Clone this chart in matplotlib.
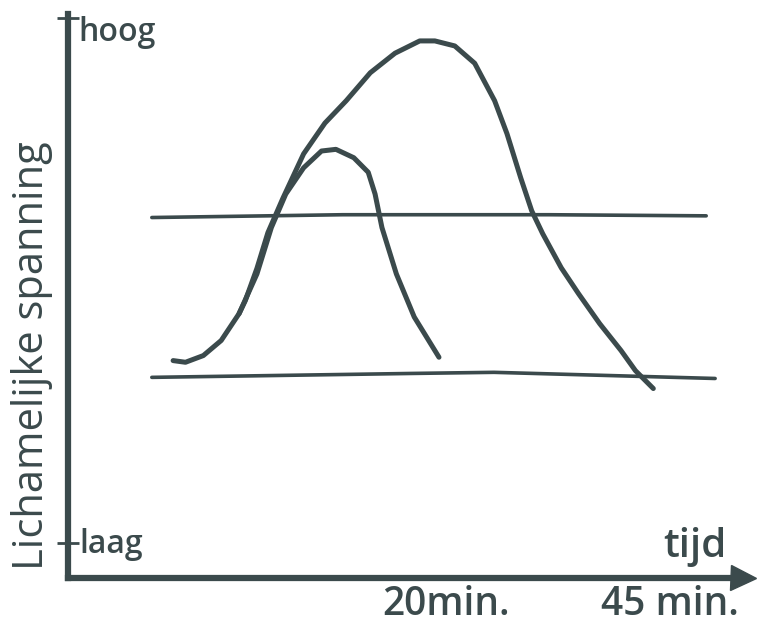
import matplotlib.pyplot as plt

# kleur van de stift
ink = '#3b4a4c'

# korte spanningscurve (piek rond 20 min.)
kort_t = [15.3, 17.1, 19.7, 22.3, 24.9, 27.5, 29.6, 31.7, 34.3, 36.9, 39.0,
          41.6, 43.7, 44.7, 45.7, 47.8, 50.4, 52.5, 54.0]
kort_s = [38.9, 38.6, 39.8, 42.5, 47.3, 54.4, 62.7, 68.7, 73.4, 76.4, 76.7,
          75.2, 72.6, 68.7, 62.7, 54.4, 46.7, 42.5, 39.5]

# lange spanningscurve (tot 45 min.)
lang_t = [24.9, 25.8, 27.5, 29.1, 31.3, 34.3, 37.4, 40.5, 44.0, 47.6, 51.2,
          53.4, 56.3, 59.2, 62.1, 63.9, 65.9, 67.5, 69.1, 71.8, 74.3, 77.4,
          80.5, 82.6, 85.2]
lang_s = [47.3, 49.6, 55.4, 61.8, 68.0, 75.9, 81.4, 85.4, 90.4, 93.9, 96.1,
          96.1, 95.2, 92.1, 85.4, 79.5, 71.6, 65.7, 61.6, 55.5, 50.9, 45.5,
          40.7, 37.1, 33.9]

# twee horizontale grenslijnen
boven_t = [12.2, 40.0, 70.0, 92.9]
boven_s = [64.5, 65.0, 65.0, 64.8]
onder_t = [12.2, 50.0, 62.0, 94.2]
onder_s = [35.9, 36.6, 36.8, 35.7]

y_ticks = [100.2, 6.25]
y_labels = ['hoog', 'laag']
x_ticks = [55.0, 87.6]
x_labels = ['20min.', '45 min.']

plt.rcParams['font.family'] = ['Open Sans', 'DejaVu Sans']

fig = plt.figure(figsize=(7.59, 6.36), dpi=100)
ax = fig.add_axes([0.0896, 0.0912, 0.9051, 0.8805])
ax.set_xlim(0, 100)
ax.set_ylim(0, 100)

ax.plot(boven_t, boven_s, color=ink, lw=2.6, solid_capstyle='round')
ax.plot(onder_t, onder_s, color=ink, lw=2.6, solid_capstyle='round')
ax.plot(kort_t, kort_s, color=ink, lw=3.6, solid_capstyle='round', solid_joinstyle='round')
ax.plot(lang_t, lang_s, color=ink, lw=3.6, solid_capstyle='round', solid_joinstyle='round')

# assen
for side in ['top', 'right']:
    ax.spines[side].set_visible(False)
for side in ['left', 'bottom']:
    ax.spines[side].set_color(ink)
    ax.spines[side].set_linewidth(4.5)
ax.spines['left'].set_bounds(0, 101)
ax.spines['bottom'].set_bounds(0, 98)
ax.plot([98.3], [0], marker='>', markersize=18, color=ink, clip_on=False)

ax.set_yticks(y_ticks)
ax.set_yticklabels([])
ax.tick_params(axis='y', direction='inout', length=16, width=2, color=ink)
# labels naast de ticks (tekst begint iets rechts van de as)
ax.text(1.5, 100.6, y_labels[0], color=ink, fontsize=23, va='top', ha='left',
        fontweight='semibold', clip_on=False)
ax.text(1.7, 9.0, y_labels[1], color=ink, fontsize=23, va='top', ha='left',
        fontweight='semibold')

ax.set_xticks([])
for xv, lab in zip(x_ticks, x_labels):
    ax.text(xv, -4.9, lab, color=ink, fontsize=28, va='center', ha='center',
            fontweight='semibold', clip_on=False)

ax.text(91.2, 5.6, 'tijd', color=ink, fontsize=29, va='center', ha='center',
        fontweight='semibold')
ax.text(-5.2, 39.8, 'Lichamelijke spanning', color=ink, fontsize=30, rotation=90,
        va='center', ha='center', clip_on=False)

fig.savefig('out.png', dpi=100)
